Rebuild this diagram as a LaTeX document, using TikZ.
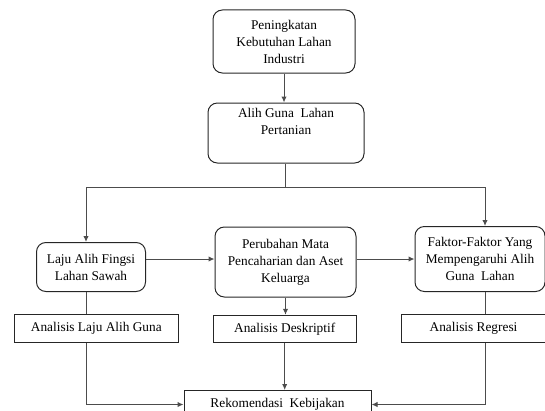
\documentclass[tikz,border=0pt]{standalone}
\usepackage{fontspec}
\setmainfont{Liberation Serif}
\usetikzlibrary{arrows.meta, positioning, calc}
\tikzset{
	roundbox/.style={draw=black!85, line width=0.75pt, rounded corners=7pt, align=center, inner sep=2pt},
	flatbox/.style={draw=black!85, line width=0.75pt, align=center, inner sep=2pt},
	link/.style={draw=black!70, line width=0.75pt}
}

\begin{document}
\begin{tikzpicture}[x=0.75pt, y=-0.75pt, >={Latex[length=4.5pt,width=4pt]}, font=\fontsize{10}{12.75}\selectfont]
      \useasboundingbox (0,0) rectangle (545,410);
      \clip (0,0) rectangle (545,410);
      \node[roundbox, minimum width=106.5pt, minimum height=47.25pt] (butuh) at (284,41.5) {Peningkatan\\ Kebutuhan Lahan\\ Industri};
      \node[roundbox, minimum width=117pt, minimum height=45pt] (alih) at (286,133) {Alih Guna\ \ Lahan\\ Pertanian\\[4pt]};
      \node[roundbox, minimum width=81.75pt, minimum height=36.75pt] (laju) at (91,267) {Laju Alih Fingsi\\ Lahan Sawah};
      \node[roundbox, minimum width=105.75pt, minimum height=52.5pt] (ubah) at (285.5,262) {Perubahan Mata\\ Pencaharian dan Aset\\ Keluarga};
      \node[roundbox, minimum width=97.5pt, minimum height=48.75pt] (faktor) at (480,259) {Faktor-Faktor Yang\\ Mempengaruhi Alih\\ Guna\ \ Lahan};

      \node[flatbox, minimum width=123pt, minimum height=21pt] (anlaju) at (96.3,328.3) {Analisis Laju Alih Guna};
      \node[flatbox, minimum width=107.25pt, minimum height=20.25pt] (andesk) at (284.7,328.8) {Analisis Deskriptif};
      \node[flatbox, minimum width=108.75pt, minimum height=21pt] (anreg) at (473.5,328.5) {Analisis Regresi};
      \node[flatbox, minimum width=140.25pt, minimum height=21pt] (rekom) at (277.5,404.5) {Rekomendasi\ \ Kebijakan};

      % split of the flow below the second box
      \coordinate (splitM) at (285,187);
      \coordinate (splitL) at (86,187);
      \coordinate (splitR) at (485,187);
      \draw[link, ->] (butuh.south) -- (butuh.south |- alih.north);
      \draw[link] (alih.south -| splitM) -- (splitM);
      \draw[link] (splitL) -- (splitR);
      \draw[link, ->] (splitL) -- (splitL |- laju.north);
      \draw[link, ->] (splitR) -- (splitR |- faktor.north);
      \draw[link, ->] (laju.east |- faktor) -- (ubah.west |- faktor);
      \draw[link, ->] (ubah.east |- faktor) -- (faktor.west);

      % down to the analyses
      \draw[link] (laju.south -| splitL) -- (anlaju.north -| splitL);
      \draw[link, ->] (ubah.south) -- (ubah.south |- andesk.north);
      \draw[link] (faktor.south -| splitR) -- (anreg.north -| splitR);

      % into the recommendation
      \draw[link, ->] (anlaju.south -| splitL) |- (rekom.west);
      \draw[link, ->] (andesk.south) -- (andesk.south |- rekom.north);
      \draw[link, ->] (anreg.south -| splitR) |- (rekom.east);
\end{tikzpicture}
\end{document}
